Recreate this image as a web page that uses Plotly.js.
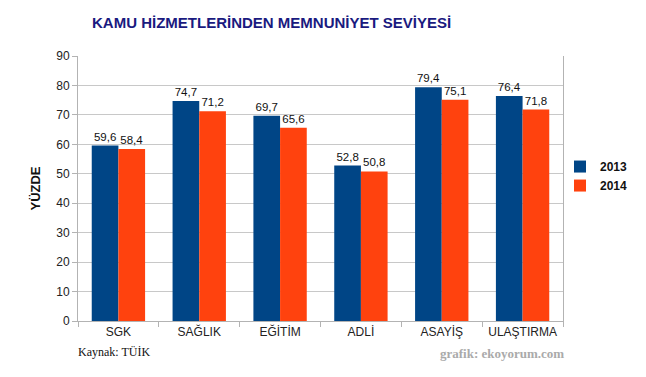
<!DOCTYPE html>
<html>
<head>
<meta charset="utf-8">
<script src="https://cdn.plot.ly/plotly-3.0.1.min.js"></script>
<style>
html,body{margin:0;padding:0;background:#fff;}
#chart{width:646px;height:377px;}
</style>
</head>
<body>
<div id="chart"></div>
<script>
const categories = ["SGK", "SAĞLIK", "EĞİTİM", "ADLİ", "ASAYİŞ", "ULAŞTIRMA"];
const values2013 = [59.6, 74.7, 69.7, 52.8, 79.4, 76.4];
const values2014 = [58.4, 71.2, 65.6, 50.8, 75.1, 71.8];
const seriesNames = ["2013", "2014"];
const yTicks = [0, 10, 20, 30, 40, 50, 60, 70, 80, 90];

const fmt = v => v.toFixed(1).replace('.', ',');
const labelFont = {family: 'Liberation Sans, Arial, sans-serif', size: 11.5, color: '#111'};

const traces = [
  {type: 'bar', name: seriesNames[0], x: categories, y: values2013,
   marker: {color: '#004586'}, text: values2013.map(fmt), textposition: 'outside',
   textfont: labelFont, cliponaxis: false, hoverinfo: 'none'},
  {type: 'bar', name: seriesNames[1], x: categories, y: values2014,
   marker: {color: '#ff420e'}, text: values2014.map(fmt), textposition: 'outside',
   textfont: labelFont, cliponaxis: false, hoverinfo: 'none'}
];

const layout = {
  width: 646, height: 377,
  margin: {l: 77.5, r: 82.5, t: 56, b: 56, pad: 0},
  paper_bgcolor: '#fff', plot_bgcolor: '#fff',
  barmode: 'group', bargap: 0.34, bargroupgap: 0,
  font: {family: 'Liberation Sans, Arial, sans-serif', size: 12, color: '#222'},
  title: {text: '<b>KAMU HİZMETLERİNDEN MEMNUNİYET SEVİYESİ</b>',
          font: {family: 'Liberation Sans, Arial, sans-serif', size: 15, color: '#1a1a80'},
          x: 92/646, xanchor: 'left', y: 1 - 23/377, yanchor: 'middle'},
  xaxis: {type: 'category', tickson: 'boundaries', ticks: 'outside', ticklen: 5,
          tickcolor: '#b3b3b3', showline: true, linecolor: '#b3b3b3', linewidth: 1,
          showgrid: false, tickfont: {size: 12, color: '#222'}, fixedrange: true},
  yaxis: {range: [0, 90], tickvals: yTicks, ticks: 'outside', ticklen: 5,
          tickcolor: '#b3b3b3', showline: true, mirror: true, linecolor: '#b3b3b3', linewidth: 1,
          showgrid: true, gridcolor: '#c8c8c8', zeroline: false,
          tickfont: {size: 12, color: '#222'},
          title: {text: '<b>YÜZDE</b>', font: {size: 13, color: '#111'}, standoff: 12},
          fixedrange: true},
  showlegend: true,
  legend: {x: 1 - 3/486, xanchor: 'left', y: 0.547, yanchor: 'middle',
           font: {size: 12, color: '#111', family: 'Liberation Sans, Arial, sans-serif', weight: 'bold'},
           itemwidth: 30, tracegroupgap: 0, bgcolor: 'rgba(0,0,0,0)'},
  annotations: [
    {text: 'Kaynak: TÜİK', xref: 'paper', yref: 'paper', x: -2/486, y: -31/265,
     xanchor: 'left', yanchor: 'middle', showarrow: false,
     font: {family: 'Liberation Serif, Times New Roman, serif', size: 12, color: '#111'}},
    {text: '<b>grafik: ekoyorum.com</b>', xref: 'paper', yref: 'paper', x: 1.007, y: -32/265,
     xanchor: 'right', yanchor: 'middle', showarrow: false,
     font: {family: 'Liberation Serif, Times New Roman, serif', size: 13, color: '#aaaaaa'}}
  ]
};

Plotly.newPlot('chart', traces, layout, {displayModeBar: false, staticPlot: true});
</script>
</body>
</html>
